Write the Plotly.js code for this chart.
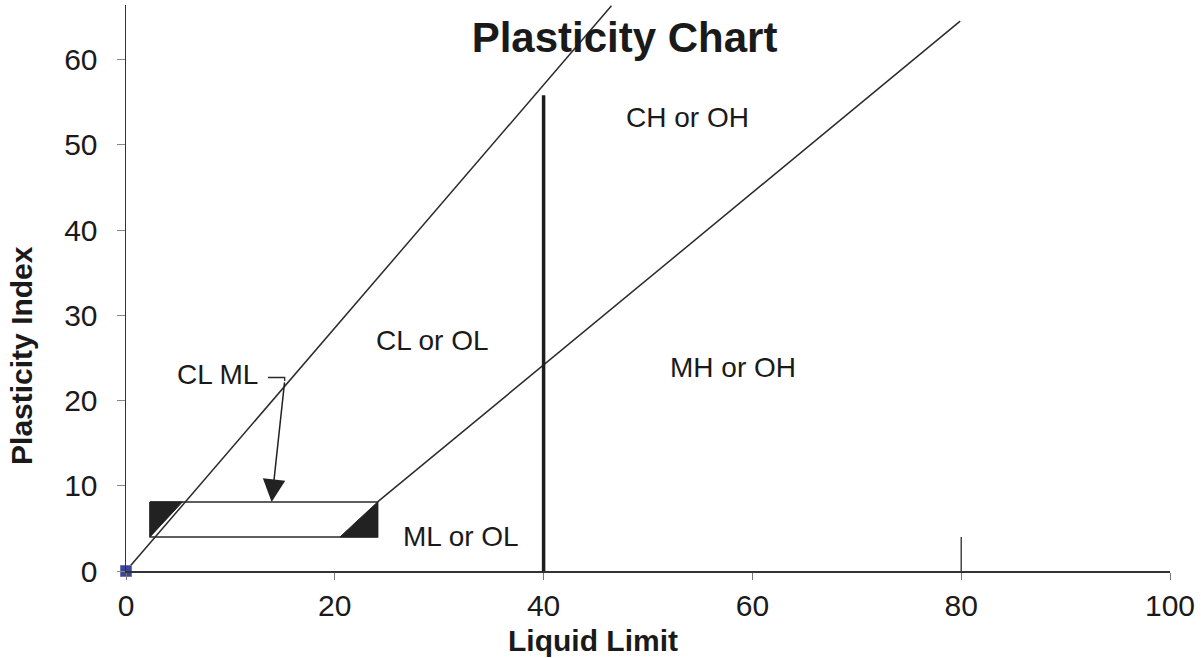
<!DOCTYPE html>
<html>
<head>
<meta charset="utf-8">
<script src="https://cdn.plot.ly/plotly-3.0.1.min.js"></script>
<style>html,body{margin:0;padding:0;background:#fff;}#chart{width:1201px;height:658px;}</style>
</head>
<body>
<div id="chart"></div>
<script>
// Boundary lines (Liquid Limit, Plasticity Index)
const upperLineX = [0, 46.5];
const upperLineY = [0, 66.3];
const aLineX = [24.1, 79.9];
const aLineY = [8.1, 64.5];
const llFiftyX = [40, 40];
const llFiftyY = [0, 55.8];
const tick80X = [80, 80];
const tick80Y = [-0.3, 4.0];
// CL-ML band
const bandX = [2.3, 24.1, 24.1, 2.3, 2.3];
const bandY = [8.1, 8.1, 4.0, 4.0, 8.1];
const leftWedgeX = [2.3, 5.4, 2.3, 2.3];
const leftWedgeY = [8.1, 8.1, 4.0, 8.1];
const rightWedgeX = [24.1, 24.1, 20.5, 24.1];
const rightWedgeY = [8.1, 4.0, 4.0, 8.1];
// Leader for CL ML label
const leaderX = [13.6, 15.2, 15.2];
const leaderY = [22.7, 22.7, 22.3];
const arrowTip = [13.95, 8.1];
// Origin point
const pointX = [0];
const pointY = [0];
// Zone labels
const zoneLabels = ['CL ML', 'CL or OL', 'CH or OH', 'MH or OH', 'ML or OL'];
const zoneX = [8.8, 29.4, 53.8, 58.1, 32.1];
const zoneY = [23.0, 27.1, 53.2, 23.9, 4.0];
// Ticks
const xTicks = [0, 20, 40, 60, 80, 100];
const yTicks = [0, 10, 20, 30, 40, 50, 60];
const xTitle = 'Liquid Limit';
const yTitle = 'Plasticity Index';

const lineCol = '#2a2a2a';
const traces = [
  {x: upperLineX, y: upperLineY, mode: 'lines', line: {color: lineCol, width: 1.5}, hoverinfo: 'skip'},
  {x: aLineX, y: aLineY, mode: 'lines', line: {color: lineCol, width: 1.5}, hoverinfo: 'skip'},
  {x: llFiftyX, y: llFiftyY, mode: 'lines', line: {color: '#1e1e1e', width: 3.5}, hoverinfo: 'skip'},
  {x: tick80X, y: tick80Y, mode: 'lines', line: {color: lineCol, width: 1.3}, hoverinfo: 'skip', cliponaxis: false},
  {x: bandX, y: bandY, mode: 'lines', line: {color: lineCol, width: 1.5}, hoverinfo: 'skip'},
  {x: leftWedgeX, y: leftWedgeY, mode: 'lines', fill: 'toself', fillcolor: '#222', line: {color: '#222', width: 1}, hoverinfo: 'skip'},
  {x: rightWedgeX, y: rightWedgeY, mode: 'lines', fill: 'toself', fillcolor: '#222', line: {color: '#222', width: 1}, hoverinfo: 'skip'},
  {x: leaderX, y: leaderY, mode: 'lines', line: {color: lineCol, width: 1.3}, hoverinfo: 'skip'},
  {x: pointX, y: pointY, mode: 'markers', marker: {symbol: 'square', size: 11, color: '#3b4796', line: {color: '#6a74b8', width: 1}}, cliponaxis: false, hoverinfo: 'skip'}
];

const baseFont = 'Arial, "Liberation Sans", sans-serif';
const zoneFont = {family: baseFont, size: 28, color: '#1a1a1a'};
const annotations = zoneLabels.map((t, i) => ({
  x: zoneX[i], y: zoneY[i], xref: 'x', yref: 'y', text: t, showarrow: false,
  xanchor: 'center', yanchor: 'middle', font: zoneFont
}));
annotations.push({
  x: arrowTip[0], y: arrowTip[1], xref: 'x', yref: 'y',
  ax: leaderX[2], ay: leaderY[2], axref: 'x', ayref: 'y',
  text: '', showarrow: true, arrowhead: 2, arrowsize: 3, arrowwidth: 1.5, arrowcolor: '#222', standoff: 0
});
// Axis titles (placed as in the original, off-centre)
annotations.push({
  x: 0.447, y: -0.122, xref: 'paper', yref: 'paper', text: xTitle, showarrow: false,
  xanchor: 'center', yanchor: 'middle', font: {family: baseFont, size: 30, color: '#1a1a1a', weight: 'bold'}
});
annotations.push({
  x: -0.0996, y: 0.38, xref: 'paper', yref: 'paper', text: yTitle, showarrow: false, textangle: -90,
  xanchor: 'center', yanchor: 'middle', font: {family: baseFont, size: 30, color: '#1a1a1a', weight: 'bold'}
});

const layout = {
  width: 1201, height: 658,
  margin: {l: 126, r: 31, t: 5, b: 87},
  paper_bgcolor: '#fff', plot_bgcolor: '#fff',
  showlegend: false,
  title: {text: 'Plasticity Chart', font: {family: baseFont, size: 42, color: '#1a1a1a', weight: 'bold'},
          x: 0.52, xanchor: 'center', y: 0.943, yanchor: 'middle', xref: 'container', yref: 'container'},
  xaxis: {
    range: [0, 100], tickvals: xTicks, ticktext: xTicks.map(String),
    showgrid: false, zeroline: false, showline: true, linecolor: '#333', linewidth: 1.5,
    ticks: 'outside', ticklen: 7, tickwidth: 1, tickcolor: '#777',
    tickfont: {family: baseFont, size: 30, color: '#1a1a1a'},
    fixedrange: true
  },
  yaxis: {
    range: [0, 66.4], tickvals: yTicks, ticktext: yTicks.map(String),
    showgrid: false, zeroline: false, showline: true, linecolor: '#333', linewidth: 1.5,
    ticks: 'outside', ticklen: 8, tickwidth: 1, tickcolor: '#888', ticklabelstandoff: 13,
    tickfont: {family: baseFont, size: 30, color: '#1a1a1a'},
    fixedrange: true
  },
  annotations: annotations
};

Plotly.newPlot('chart', traces, layout, {staticPlot: true, displayModeBar: false});
</script>
</body>
</html>
